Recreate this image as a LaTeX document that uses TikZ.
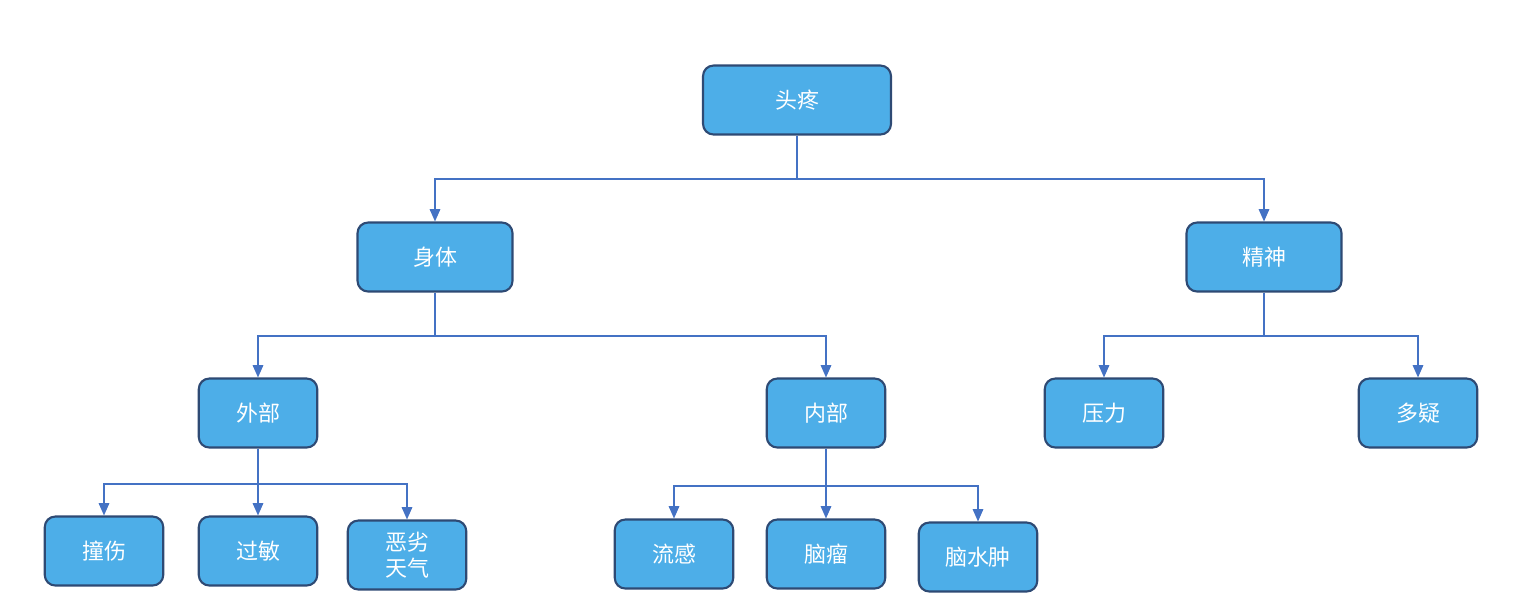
\documentclass[tikz,border=0pt]{standalone}
\usepackage{fontspec}
\setmainfont{Noto Sans CJK SC}
\usetikzlibrary{arrows.meta}
\definecolor{boxfill}{HTML}{4DAEE8}
\definecolor{boxline}{HTML}{2E4A74}
\definecolor{linkcol}{HTML}{4472C4}
\begin{document}
\begin{tikzpicture}[x=0.02cm,y=-0.02cm,
  box/.style={draw=boxline,line width=1.2pt,fill=boxfill,rounded corners=6pt,
    text=white,font=\fontsize{12.5}{15}\selectfont,align=center,inner sep=0pt},
  big/.style={box,minimum width=3.76cm,minimum height=1.38cm},
  mid/.style={box,minimum width=3.1cm,minimum height=1.38cm},
  small/.style={box,minimum width=2.37cm,minimum height=1.38cm},
  link/.style={draw=linkcol,line width=0.8pt,-{Triangle[width=6pt,length=7pt]}}]

  \useasboundingbox (0,0) rectangle (1518,610);

  \node[big] (head) at (797,100) {头疼};
  \node[mid] (body) at (435,257) {身体};
  \node[mid] (mind) at (1264,257) {精神};
  \node[small] (outer) at (258,413) {外部};
  \node[small] (inner) at (826,413) {内部};
  \node[small] (stress) at (1104,413) {压力};
  \node[small] (doubt) at (1418,413) {多疑};
  \node[small] (bump) at (104,551) {撞伤};
  \node[small] (allergy) at (258,551) {过敏};
  \node[small] (weather) at (407,555) {恶劣\\天气};
  \node[small] (flu) at (674,554) {流感};
  \node[small] (tumor) at (826,554) {脑瘤};
  \node[small] (edema) at (978,557) {脑水肿};

  \foreach \p/\c/\y in {head/body/179, head/mind/179,
      body/outer/336, body/inner/336, mind/stress/336, mind/doubt/336,
      outer/bump/484, outer/allergy/484, outer/weather/484,
      inner/flu/486, inner/tumor/486, inner/edema/486}
    \draw[link] (\p.south) -- (\p.south |- 0,\y) -| (\c.north);

\end{tikzpicture}
\end{document}
